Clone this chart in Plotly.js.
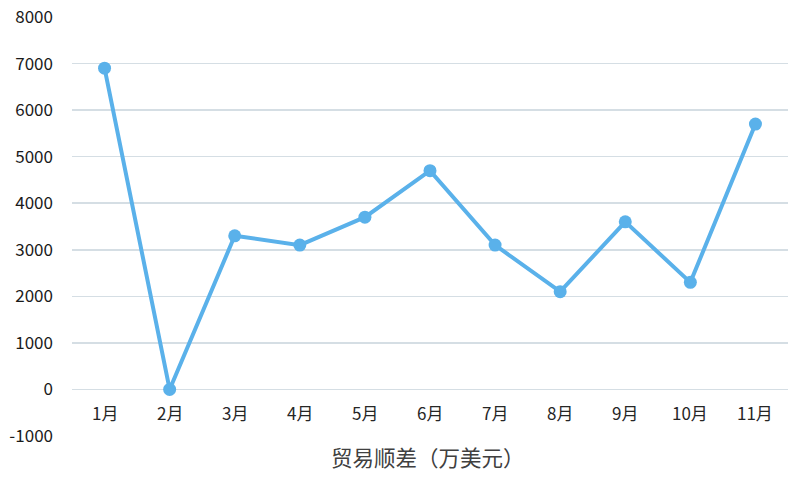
<!DOCTYPE html>
<html>
<head>
<meta charset="utf-8">
<script src="https://cdn.plot.ly/plotly-3.0.1.min.js"></script>
<style>html,body{margin:0;padding:0;background:#fff;}#chart{width:800px;height:482px;}</style>
</head>
<body>
<div id="chart"></div>
<script>
var months = ['1月','2月','3月','4月','5月','6月','7月','8月','9月','10月','11月'];
var surplus = [6900, 0, 3300, 3100, 3700, 4700, 3100, 2100, 3600, 2300, 5700];
var yTicks = [-1000, 0, 1000, 2000, 3000, 4000, 5000, 6000, 7000, 8000];
var xLabelY = -500;
var axisTitle = '贸易顺差（万美元）';

var fontFam = '"Noto Sans CJK SC", "Liberation Sans", sans-serif';

var trace = {
  x: months,
  y: surplus,
  type: 'scatter',
  mode: 'lines+markers',
  line: {color: '#5AB1EA', width: 4},
  marker: {color: '#5AB1EA', size: 13},
  hoverinfo: 'skip'
};

var annotations = months.map(function(m){
  return {x: m, y: xLabelY, xref: 'x', yref: 'y', text: m, showarrow: false,
          font: {family: fontFam, size: 17, color: '#262626'}};
});
annotations.push({x: 0.5, y: 0, xref: 'paper', yref: 'paper', yshift: -20, xshift: -2, text: axisTitle,
  showarrow: false, xanchor: 'center', yanchor: 'middle',
  font: {family: fontFam, size: 21.5, color: '#404040'}});

var layout = {
  width: 800, height: 482,
  margin: {l: 72, r: 12, t: 17, b: 46},
  paper_bgcolor: '#ffffff', plot_bgcolor: '#ffffff',
  showlegend: false,
  xaxis: {type: 'category', range: [-0.5, 10.5], showticklabels: false, showgrid: false,
          zeroline: false, showline: false, ticks: ''},
  yaxis: {range: [-1000, 8000], tickvals: yTicks, ticktext: yTicks.map(String),
          showgrid: true, gridcolor: '#D5DEE4', gridwidth: 1.5, zeroline: false, showline: false,
          ticks: '', ticklabelstandoff: 18,
          tickfont: {family: fontFam, size: 17, color: '#1a1a1a'}},
  annotations: annotations
};

Plotly.newPlot('chart', [trace], layout, {displayModeBar: false, staticPlot: true});
</script>
</body>
</html>
